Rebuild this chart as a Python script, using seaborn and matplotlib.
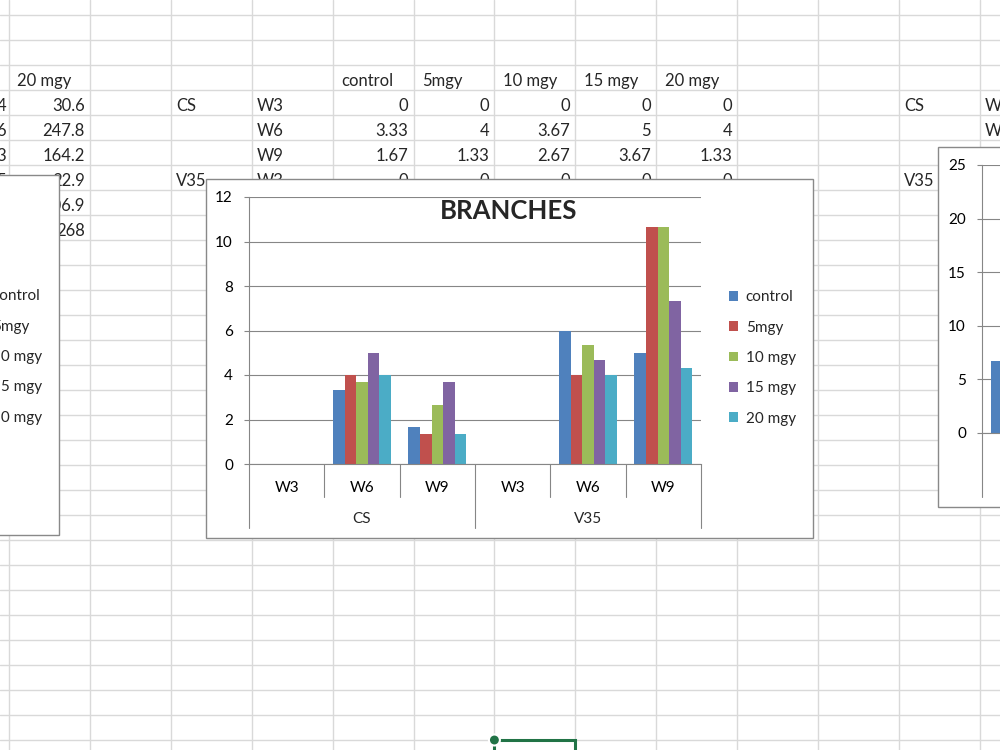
import numpy as np
import pandas as pd
import seaborn as sns
import matplotlib.pyplot as plt
from matplotlib.patches import Rectangle, Circle

sns.set_theme(style="white")
plt.rcParams['font.family'] = ['Lato', 'DejaVu Sans']

# chart data (branches per plant)
doses = ["control", "5mgy", "10 mgy", "15 mgy", "20 mgy"]
varieties = ["CS", "V35"]
weeks = ["W3", "W6", "W9"]
control = [0, 3.33, 1.67, 0, 6, 5]
mgy5 = [0, 4, 1.33, 0, 4, 10.67]
mgy10 = [0, 3.67, 2.67, 0, 5.33, 10.67]
mgy15 = [0, 5, 3.67, 0, 4.67, 7.33]
mgy20 = [0, 4, 1.33, 0, 4, 4.33]

# other sheet content partly visible
left_col_20mgy = [30.6, 247.8, 164.2, 22.9, 106.9, 268]
left_col_tail = ["4", "6", "3", "5"]
right_chart_control = [6.67]

colors = ["#4F81BD", "#C0504D", "#9BBB59", "#8064A2", "#4BACC6"]
GRAY = "#868686"
SHEET = "#D9D9D9"
FS = 11

W, H = 1000, 750
fig = plt.figure(figsize=(10, 7.5), dpi=100)

# ---- spreadsheet background
sheet = fig.add_axes([0, 0, 1, 1])
sheet.set_xlim(0, W)
sheet.set_ylim(H, 0)
sheet.axis("off")
col_w = 80.9
cols = [9 + col_w * k for k in range(13)]
rows = [15 + 25 * k for k in range(31)]
for x in cols:
    sheet.plot([x, x], [0, H], color=SHEET, lw=1, zorder=1)
for y in rows:
    sheet.plot([0, W], [y, y], color=SHEET, lw=1, zorder=1)


def cell(col, row, s, align="left", pad=5):
    x0, x1 = cols[col], cols[col] + col_w
    yb = rows[row] + 21
    if align == "left":
        sheet.text(x0 + pad, yb, s, ha="left", va="baseline", fontsize=12, zorder=2)
    else:
        sheet.text(x1 - 5, yb, s, ha="right", va="baseline", fontsize=12, zorder=2)


# left block
cell(0, 2, "20 mgy", pad=8)
for i, v in enumerate(left_col_20mgy):
    cell(0, 3 + i, "{:g}".format(v), align="right")
for i, s in enumerate(left_col_tail):
    sheet.text(6, rows[3 + i] + 21, s, ha="right", va="baseline", fontsize=12, zorder=2)

# middle table
for j, d in enumerate(doses):
    cell(4 + j, 2, d, pad=9)
series = [control, mgy5, mgy10, mgy15, mgy20]
cell(2, 3, "CS")
cell(2, 6, "V35")
for i in range(4):
    cell(3, 3 + i, weeks[i % 3])
    for j, s in enumerate(series):
        cell(4 + j, 3 + i, "{:g}".format(s[i]), align="right")

# right block
cell(11, 3, "CS")
cell(11, 6, "V35")
for i in range(3):
    cell(12, 3 + i, weeks[i])

# chart boxes
sheet.add_patch(Rectangle((-10, 175), 69, 360, fc="white", ec="#898989", lw=1, zorder=3))
sheet.add_patch(Rectangle((938, 147), 120, 360, fc="white", ec="#898989", lw=1, zorder=3))
sheet.add_patch(Rectangle((206, 179), 607, 359, fc="white", ec="#898989", lw=1, zorder=3))
for i, d in enumerate(doses):
    sheet.text(-8, 296 + 30.5 * i, d, ha="left", va="center", fontsize=FS, zorder=4)

# selected cell
sheet.add_patch(Rectangle((cols[6], rows[29]), col_w, 25, fc="none", ec="#217346", lw=2.2, zorder=5))
sheet.add_patch(Circle((cols[6], rows[29]), 5.5, fc="#217346", ec="white", lw=1.5, zorder=6))

# ---- main chart
cats = [v + " " + w for v in varieties for w in weeks]
df = pd.DataFrame({
    "cat": np.tile(cats, len(doses)),
    "dose": np.repeat(doses, len(cats)),
    "value": np.concatenate(series),
})

x0, x1, y0, y1 = 249, 701, 464, 197
ax = fig.add_axes([x0 / W, 1 - y0 / H, (x1 - x0) / W, (y0 - y1) / H])
sns.barplot(data=df, x="cat", y="value", hue="dose", order=cats, hue_order=doses,
            palette=colors, saturation=1, width=0.77, gap=0, linewidth=0, ax=ax)
ax.set_facecolor("none")
ax.set_ylim(0, 12)
ax.set_yticks(range(0, 13, 2))
ax.set_xlim(-0.5, len(cats) - 0.5)
ax.yaxis.grid(True, color=GRAY, lw=0.8)
ax.set_axisbelow(True)
for side in ["top", "right"]:
    ax.spines[side].set_visible(False)
for side in ["left", "bottom"]:
    ax.spines[side].set_color(GRAY)
    ax.spines[side].set_linewidth(0.8)
ax.set_xlabel("")
ax.set_ylabel("")
ax.set_xticks(range(len(cats)))
ax.set_xticklabels([w for v in varieties for w in weeks])
ax.tick_params(axis="x", length=0, pad=12, labelsize=FS, labelcolor="black")
ax.tick_params(axis="y", left=True, length=3.6, width=0.8, color=GRAY, pad=8,
               labelsize=FS, labelcolor="black")

tr = ax.get_xaxis_transform()
for b in range(len(cats) + 1):
    depth = -0.24 if b % 3 == 0 else -0.124
    ax.plot([b - 0.5, b - 0.5], [0, depth], transform=tr, clip_on=False, color=GRAY, lw=0.8)
for k, v in enumerate(varieties):
    ax.text(3 * k + 1, -0.207, v, transform=tr, ha="center", va="center", fontsize=FS)

fig.text(509 / W, 1 - 211 / H, "BRANCHES", ha="center", va="center",
         fontsize=18.5, fontweight="bold")

handles, labels = ax.get_legend_handles_labels()
ax.legend(handles, labels, loc="center left", bbox_to_anchor=(729 / W, 1 - 358 / H),
          bbox_transform=fig.transFigure, frameon=False, borderpad=0, borderaxespad=0,
          handlelength=0.6, handleheight=0.6, handletextpad=0.5, labelspacing=1.07,
          fontsize=FS)

# ---- right chart (cut off at the figure edge)
rdf = pd.DataFrame({"cat": ["W3"], "dose": ["control"], "value": right_chart_control})
rx0, ry0, ry1 = 982, 433, 165
ax2 = fig.add_axes([rx0 / W, 1 - ry0 / H, 75.3 / W, (ry0 - ry1) / H])
sns.barplot(data=rdf, x="cat", y="value", hue="dose", hue_order=doses, palette=colors,
            saturation=1, width=0.77, gap=0, linewidth=0, legend=False, ax=ax2)
ax2.set_facecolor("none")
ax2.set_ylim(0, 25)
ax2.set_yticks(range(0, 26, 5))
ax2.set_xlim(-0.5, 0.5)
ax2.yaxis.grid(True, color=GRAY, lw=0.8)
ax2.set_axisbelow(True)
for side in ["top", "right"]:
    ax2.spines[side].set_visible(False)
for side in ["left", "bottom"]:
    ax2.spines[side].set_color(GRAY)
    ax2.spines[side].set_linewidth(0.8)
ax2.set_xlabel("")
ax2.set_ylabel("")
ax2.set_xticks([])
ax2.tick_params(axis="y", left=True, length=3.6, width=0.8, color=GRAY, pad=8,
                labelsize=FS, labelcolor="black")
ax2.plot([-0.5, -0.5], [0, -0.24], transform=ax2.get_xaxis_transform(), clip_on=False,
         color=GRAY, lw=0.8)

fig.savefig("out.png", dpi=100)
